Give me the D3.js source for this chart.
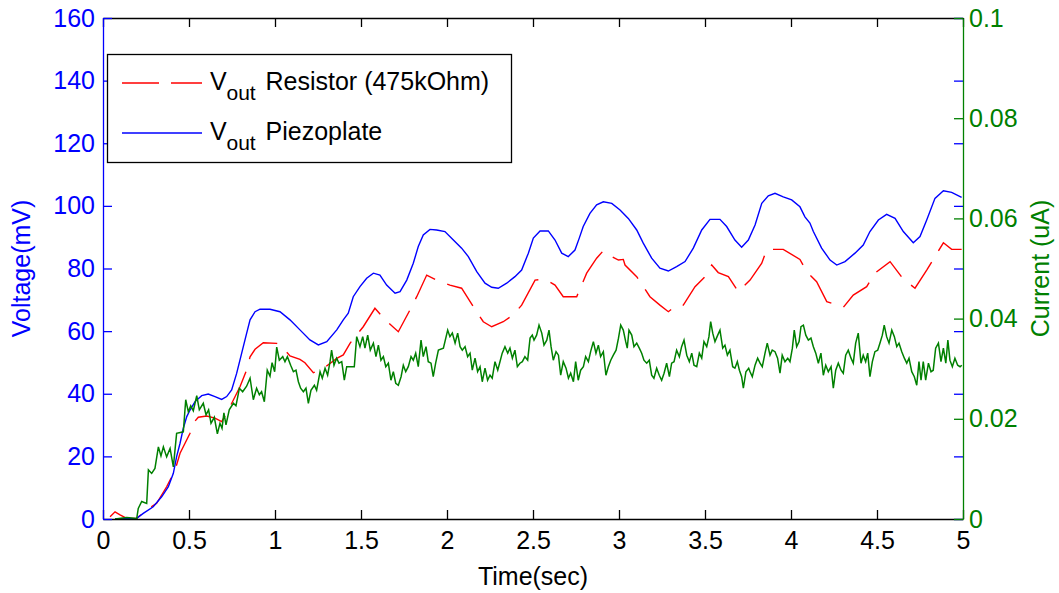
<!DOCTYPE html>
<html><head><meta charset="utf-8">
<script src="https://cdn.jsdelivr.net/npm/d3@7"></script>
<style>
html,body{margin:0;padding:0;background:#fff;}
svg{display:block;font-family:"Liberation Sans",Arial,Helvetica,sans-serif;}
</style></head>
<body><svg id="chart" width="1059" height="593"></svg>
<script>
// ---- data ----
const timeTicks = [0,0.5,1,1.5,2,2.5,3,3.5,4,4.5,5];
const voltageTicks = [0,20,40,60,80,100,120,140,160];
const currentTicks = [0,0.02,0.04,0.06,0.08,0.1];
const legendLabels = ["Resistor (475kOhm)","Piezoplate"];

// Vout Piezoplate [time s, mV]
const voutPiezo = [[0.070,0],[0.196,0.2],[0.234,1.8],[0.292,3.9],[0.341,7.1],[0.380,10.3],[0.409,14.6],[0.428,19.9],[0.448,24.2],[0.467,29.0],[0.487,32.7],[0.506,34.8],[0.535,37.5],[0.574,39.4],[0.612,39.9],[0.651,39.1],[0.690,38.2],[0.719,39.1],[0.748,41.2],[0.777,46.5],[0.806,52.9],[0.835,59.3],[0.855,63.6],[0.884,66.2],[0.913,67.0],[0.971,67.0],[1.029,66.2],[1.087,63.6],[1.145,60.4],[1.203,57.2],[1.252,55.6],[1.301,56.6],[1.359,60.4],[1.397,63.6],[1.426,65.7],[1.455,71.0],[1.494,74.2],[1.533,76.9],[1.572,78.5],[1.610,77.9],[1.649,74.7],[1.698,72.1],[1.727,72.6],[1.766,76.3],[1.804,81.7],[1.833,87.0],[1.862,90.7],[1.901,92.5],[1.940,92.3],[1.988,91.8],[2.037,89.1],[2.085,86.5],[2.124,83.8],[2.173,79.0],[2.221,75.3],[2.260,74.0],[2.298,73.7],[2.347,75.3],[2.395,77.4],[2.434,79.5],[2.473,84.9],[2.502,89.7],[2.541,92.0],[2.589,92.0],[2.628,89.1],[2.667,84.9],[2.705,83.8],[2.744,85.9],[2.769,89.7],[2.792,93.4],[2.831,97.6],[2.870,100.3],[2.909,101.3],[2.958,100.8],[3.006,98.7],[3.054,96.0],[3.103,92.3],[3.141,88.1],[3.190,83.3],[3.238,80.1],[3.287,79.2],[3.335,80.6],[3.384,82.2],[3.432,86.5],[3.481,92.3],[3.529,95.7],[3.587,95.7],[3.626,93.4],[3.674,89.1],[3.713,86.8],[3.752,89.1],[3.791,93.9],[3.830,100.8],[3.868,103.2],[3.907,104.0],[3.955,102.9],[4.004,101.9],[4.052,99.7],[4.081,96.5],[4.110,94.5],[4.130,91.8],[4.178,86.5],[4.227,82.7],[4.266,81.1],[4.314,82.2],[4.372,84.9],[4.420,87.5],[4.459,91.8],[4.508,95.5],[4.556,97.3],[4.605,96.0],[4.653,91.8],[4.711,88.2],[4.750,90.2],[4.789,95.5],[4.837,102.4],[4.886,104.8],[4.934,104.3],[4.992,102.7]];

// Vout Resistor (475kOhm) [time s, mV]
const voutResistor = [[0.041,0.7],[0.070,2.3],[0.099,1.3],[0.138,0.2],[0.196,0.2],[0.254,2.9],[0.312,5.0],[0.370,10.3],[0.419,15.6],[0.448,21.0],[0.477,24.2],[0.506,27.4],[0.525,30.6],[0.554,32.5],[0.603,32.9],[0.651,32.2],[0.690,31.1],[0.719,33.8],[0.758,38.0],[0.797,42.3],[0.835,47.6],[0.855,51.8],[0.884,54.2],[0.932,56.3],[1.010,56.1],[1.048,54.5],[1.087,52.1],[1.145,51.0],[1.174,49.9],[1.223,46.7],[1.281,48.1],[1.359,51.3],[1.397,52.4],[1.436,56.1],[1.513,61.4],[1.581,67.3],[1.640,63.6],[1.717,59.8],[1.785,66.8],[1.824,71.0],[1.882,77.9],[1.940,76.3],[2.017,74.7],[2.085,73.7],[2.153,67.8],[2.211,63.0],[2.260,61.4],[2.327,63.0],[2.385,65.2],[2.434,68.3],[2.512,76.3],[2.570,76.6],[2.628,74.7],[2.676,71.0],[2.754,71.0],[2.812,78.5],[2.870,83.3],[2.909,85.7],[2.958,83.8],[2.997,82.7],[3.025,82.9],[3.035,81.1],[3.103,77.4],[3.180,71.0],[3.238,68.3],[3.287,66.2],[3.335,68.3],[3.374,68.3],[3.442,74.2],[3.500,77.4],[3.539,81.1],[3.577,78.7],[3.636,77.4],[3.694,72.6],[3.762,76.3],[3.830,81.7],[3.859,86.1],[3.955,86.1],[4.052,82.9],[4.091,79.0],[4.149,75.8],[4.208,69.4],[4.275,68.3],[4.304,67.6],[4.362,71.5],[4.440,74.2],[4.488,78.5],[4.576,82.2],[4.653,76.6],[4.721,73.7],[4.789,79.5],[4.837,83.8],[4.886,88.2],[4.934,86.1],[4.992,86.1]];

// Current [time s, uA]
const currentPiezo = [[0.070,0.000],[0.138,0.0003],[0.196,0.0001],[0.205,0.0021],[0.225,0.0035],[0.254,0.0031],[0.264,0.0098],[0.283,0.0091],[0.302,0.0101],[0.322,0.0144],[0.337,0.0126],[0.351,0.0144],[0.370,0.0124],[0.390,0.0141],[0.409,0.0104],[0.428,0.0171],[0.467,0.0174],[0.481,0.0238],[0.496,0.0214],[0.510,0.0226],[0.525,0.0216],[0.545,0.0246],[0.560,0.0218],[0.583,0.0231],[0.599,0.0208],[0.614,0.0218],[0.628,0.0191],[0.647,0.0203],[0.665,0.0170],[0.680,0.0191],[0.692,0.0181],[0.703,0.0212],[0.715,0.0188],[0.734,0.0218],[0.758,0.0231],[0.773,0.0226],[0.793,0.0261],[0.812,0.0254],[0.835,0.0265],[0.855,0.0281],[0.874,0.0238],[0.893,0.0261],[0.909,0.0248],[0.922,0.0254],[0.938,0.0234],[0.955,0.0297],[0.971,0.0285],[0.983,0.0312],[0.998,0.0294],[1.010,0.0343],[1.025,0.0317],[1.045,0.0324],[1.058,0.0314],[1.072,0.0324],[1.091,0.0307],[1.107,0.0294],[1.122,0.0297],[1.136,0.0274],[1.149,0.0261],[1.165,0.0254],[1.180,0.0261],[1.194,0.0231],[1.209,0.0257],[1.229,0.0267],[1.242,0.0257],[1.262,0.0294],[1.275,0.0281],[1.291,0.0301],[1.306,0.0287],[1.320,0.0314],[1.329,0.0337],[1.343,0.0307],[1.358,0.0321],[1.372,0.0311],[1.388,0.0314],[1.403,0.0277],[1.417,0.0304],[1.436,0.0304],[1.461,0.0304],[1.475,0.0364],[1.494,0.0344],[1.510,0.0364],[1.523,0.0341],[1.539,0.0367],[1.554,0.0337],[1.572,0.0351],[1.587,0.0324],[1.601,0.0347],[1.616,0.0317],[1.630,0.0324],[1.644,0.0304],[1.659,0.0311],[1.674,0.0277],[1.688,0.0294],[1.702,0.0271],[1.717,0.0267],[1.733,0.0284],[1.746,0.0307],[1.760,0.0294],[1.775,0.0304],[1.791,0.0324],[1.804,0.0317],[1.818,0.0331],[1.833,0.0304],[1.849,0.0357],[1.862,0.0324],[1.878,0.0344],[1.891,0.0314],[1.907,0.0311],[1.920,0.0284],[1.934,0.0311],[1.950,0.0337],[1.979,0.0341],[2.004,0.0377],[2.017,0.0364],[2.031,0.0371],[2.047,0.0351],[2.062,0.0371],[2.076,0.0344],[2.089,0.0337],[2.105,0.0344],[2.120,0.0324],[2.134,0.0331],[2.147,0.0297],[2.163,0.0321],[2.178,0.0294],[2.192,0.0304],[2.205,0.0274],[2.221,0.0301],[2.236,0.0277],[2.250,0.0287],[2.263,0.0281],[2.279,0.0314],[2.295,0.0297],[2.308,0.0314],[2.321,0.0331],[2.337,0.0344],[2.353,0.0331],[2.366,0.0341],[2.380,0.0321],[2.395,0.0337],[2.409,0.0304],[2.424,0.0311],[2.438,0.0314],[2.453,0.0324],[2.469,0.0317],[2.483,0.0361],[2.496,0.0367],[2.506,0.0357],[2.521,0.0367],[2.535,0.0387],[2.551,0.0371],[2.564,0.0347],[2.580,0.0357],[2.593,0.0377],[2.605,0.0344],[2.618,0.0317],[2.634,0.0334],[2.648,0.0327],[2.661,0.0287],[2.676,0.0314],[2.692,0.0301],[2.706,0.0281],[2.719,0.0291],[2.735,0.0274],[2.748,0.0314],[2.763,0.0277],[2.777,0.0297],[2.793,0.0304],[2.806,0.0324],[2.822,0.0314],[2.835,0.0334],[2.851,0.0354],[2.866,0.0331],[2.880,0.0347],[2.893,0.0324],[2.909,0.0334],[2.924,0.0287],[2.938,0.0304],[2.952,0.0317],[2.967,0.0327],[2.983,0.0337],[2.997,0.0361],[3.010,0.0387],[3.025,0.0377],[3.039,0.0354],[3.048,0.0341],[3.058,0.0377],[3.074,0.0367],[3.087,0.0344],[3.103,0.0351],[3.118,0.0341],[3.132,0.0331],[3.145,0.0317],[3.161,0.0311],[3.176,0.0317],[3.190,0.0287],[3.203,0.0281],[3.219,0.0301],[3.234,0.0287],[3.248,0.0277],[3.262,0.0291],[3.277,0.0311],[3.293,0.0284],[3.306,0.0311],[3.320,0.0314],[3.335,0.0337],[3.351,0.0324],[3.364,0.0344],[3.378,0.0357],[3.394,0.0327],[3.409,0.0314],[3.423,0.0331],[3.436,0.0307],[3.452,0.0304],[3.467,0.0331],[3.481,0.0321],[3.494,0.0354],[3.510,0.0344],[3.523,0.0364],[3.533,0.0394],[3.545,0.0371],[3.558,0.0354],[3.574,0.0367],[3.587,0.0377],[3.603,0.0341],[3.616,0.0347],[3.630,0.0327],[3.645,0.0337],[3.661,0.0304],[3.674,0.0301],[3.688,0.0314],[3.700,0.0297],[3.713,0.0284],[3.723,0.0261],[3.738,0.0294],[3.754,0.0301],[3.762,0.0294],[3.775,0.0284],[3.791,0.0307],[3.806,0.0321],[3.820,0.0311],[3.833,0.0304],[3.849,0.0331],[3.862,0.0351],[3.878,0.0327],[3.891,0.0337],[3.907,0.0334],[3.922,0.0321],[3.936,0.0291],[3.949,0.0327],[3.965,0.0314],[3.981,0.0321],[3.994,0.0314],[4.008,0.0341],[4.019,0.0377],[4.033,0.0344],[4.047,0.0354],[4.058,0.0384],[4.072,0.0387],[4.086,0.0367],[4.101,0.0357],[4.116,0.0361],[4.130,0.0344],[4.144,0.0331],[4.159,0.0311],[4.174,0.0331],[4.188,0.0287],[4.202,0.0307],[4.217,0.0294],[4.233,0.0304],[4.246,0.0261],[4.260,0.0297],[4.275,0.0311],[4.291,0.0297],[4.304,0.0291],[4.318,0.0327],[4.333,0.0337],[4.349,0.0321],[4.362,0.0311],[4.376,0.0351],[4.391,0.0371],[4.407,0.0311],[4.420,0.0327],[4.434,0.0314],[4.446,0.0331],[4.459,0.0284],[4.473,0.0314],[4.488,0.0334],[4.504,0.0337],[4.517,0.0351],[4.531,0.0367],[4.542,0.0387],[4.556,0.0364],[4.570,0.0351],[4.586,0.0377],[4.601,0.0364],[4.615,0.0344],[4.628,0.0351],[4.644,0.0334],[4.659,0.0321],[4.673,0.0311],[4.686,0.0321],[4.702,0.0294],[4.717,0.0284],[4.731,0.0267],[4.744,0.0314],[4.756,0.0277],[4.769,0.0314],[4.783,0.0277],[4.799,0.0311],[4.814,0.0294],[4.827,0.0297],[4.841,0.0341],[4.857,0.0351],[4.872,0.0314],[4.886,0.0341],[4.900,0.0311],[4.912,0.0357],[4.924,0.0317],[4.938,0.0304],[4.953,0.0321],[4.969,0.0307],[4.983,0.0304],[4.993,0.0307]];

// ---- drawing ----
const W = 1059, H = 593;
const plotL = 103, plotR = 963, plotT = 18, plotB = 519;
const FONT = 25;
const BLUE = "#0000ff", RED = "#ff0000", GREEN = "#008000";

const svg = d3.select("#chart");
svg.append("rect").attr("width", W).attr("height", H).attr("fill", "#fff");

const x = d3.scaleLinear().domain([0, 5]).range([plotL, plotR]);
const yV = d3.scaleLinear().domain([0, 160]).range([plotB, plotT]);
const yI = d3.scaleLinear().domain([0, 0.1]).range([plotB, plotT]);

const lineV = d3.line().x(d => x(d[0])).y(d => yV(d[1]));
const lineI = d3.line().x(d => x(d[0])).y(d => yI(d[1]));

// data lines
svg.append("path").datum(voutResistor).attr("d", lineV)
  .attr("fill", "none").attr("stroke", RED).attr("stroke-width", 1.4)
  .attr("stroke-dasharray", "36,13");
svg.append("path").datum(voutPiezo).attr("d", lineV)
  .attr("fill", "none").attr("stroke", BLUE).attr("stroke-width", 1.4);
svg.append("path").datum(currentPiezo).attr("d", lineI)
  .attr("fill", "none").attr("stroke", GREEN).attr("stroke-width", 1.5);

function styleAxis(g, color) {
  g.selectAll("path.domain").attr("stroke", color).attr("stroke-width", 1.3);
  g.selectAll(".tick line").attr("stroke", color).attr("stroke-width", 1.3);
  g.selectAll(".tick text").attr("fill", color)
    .attr("font-size", FONT).attr("font-family", '"Liberation Sans",Arial,sans-serif');
}

// top edge with mirrored ticks
const gTop = svg.append("g").attr("transform", `translate(0,${plotT})`)
  .call(d3.axisTop(x).tickValues(timeTicks).tickSizeInner(-9).tickSizeOuter(0).tickFormat(""));
styleAxis(gTop, "#000");

// bottom x axis
const gX = svg.append("g").attr("transform", `translate(0,${plotB})`)
  .call(d3.axisBottom(x).tickValues(timeTicks).tickSizeInner(-9).tickSizeOuter(0)
    .tickPadding(12).tickFormat(d3.format("")));
styleAxis(gX, "#000");

// right side mirrored voltage ticks (blue, no axis line)
const gVR = svg.append("g").attr("transform", `translate(${plotR},0)`)
  .call(d3.axisRight(yV).tickValues(voltageTicks).tickSizeInner(-9).tickSizeOuter(0).tickFormat(""));
styleAxis(gVR, BLUE);
gVR.select("path.domain").remove();

// left voltage axis
const gV = svg.append("g").attr("transform", `translate(${plotL},0)`)
  .call(d3.axisLeft(yV).tickValues(voltageTicks).tickSizeInner(-9).tickSizeOuter(0).tickPadding(8));
styleAxis(gV, BLUE);

// right current axis
const gI = svg.append("g").attr("transform", `translate(${plotR},0)`)
  .call(d3.axisRight(yI).tickValues(currentTicks).tickSizeInner(-9).tickSizeOuter(0)
    .tickPadding(6).tickFormat(d => d === 0 ? "0" : d3.format("")(+d.toFixed(2))));
styleAxis(gI, GREEN);

// axis titles
svg.append("text").attr("x", (plotL + plotR) / 2).attr("y", 585)
  .attr("text-anchor", "middle").attr("font-size", FONT).attr("fill", "#000")
  .text("Time(sec)");
svg.append("text").attr("transform", `translate(30,${(plotT + plotB) / 2}) rotate(-90)`)
  .attr("text-anchor", "middle").attr("font-size", FONT).attr("fill", BLUE)
  .text("Voltage(mV)");
svg.append("text").attr("transform", `translate(1049,${(plotT + plotB) / 2}) rotate(-90)`)
  .attr("text-anchor", "middle").attr("font-size", FONT).attr("fill", GREEN)
  .text("Current (uA)");

// legend
const lg = svg.append("g");
lg.append("rect").attr("x", 107.5).attr("y", 54.5).attr("width", 404).attr("height", 108)
  .attr("fill", "#fff").attr("stroke", "#000").attr("stroke-width", 1.3);
const legendItems = [
  {label: legendLabels[0], color: RED, dash: "37,12", y: 83},
  {label: legendLabels[1], color: BLUE, dash: null, y: 133}
];
legendItems.forEach(it => {
  lg.append("line").attr("x1", 122).attr("x2", 202).attr("y1", it.y).attr("y2", it.y)
    .attr("stroke", it.color).attr("stroke-width", 1.4)
    .attr("stroke-dasharray", it.dash);
  const t = lg.append("text").attr("x", 210).attr("y", it.y + 6.5)
    .attr("font-size", FONT).attr("fill", "#000");
  t.append("tspan").text("V");
  t.append("tspan").attr("x", 226.5).attr("dy", 10).attr("font-size", 21).text("out");
  t.append("tspan").attr("x", 265.5).attr("dy", -10).text(it.label);
});
</script></body></html>
